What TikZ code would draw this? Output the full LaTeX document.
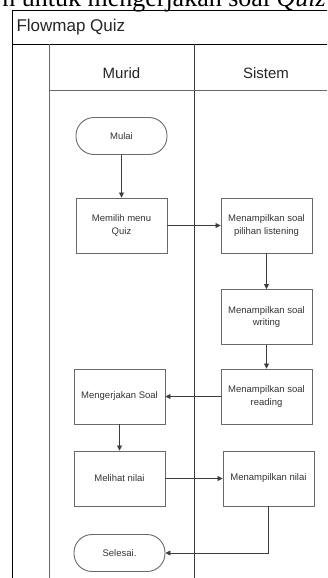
\documentclass[tikz,border=0pt]{standalone}
\usepackage{fontspec}
\setmainfont{Liberation Serif}
\setsansfont{Liberation Sans}
\usetikzlibrary{arrows.meta}
\definecolor{boxgray}{RGB}{105,105,105}
\definecolor{linegray}{RGB}{60,60,60}
\tikzset{
	proses/.style={draw=boxgray,line width=0.9pt,minimum width=91pt,minimum height=55pt,inner sep=1pt,
		align=center,font=\sffamily\fontsize{9.5}{12.5}\selectfont,text=black!80},
	terminal/.style={proses,minimum height=37pt,rounded corners=18pt},
	alur/.style={draw=linegray,line width=0.8pt,-{Triangle[length=5pt,width=5pt]}}
}
\begin{document}
\begin{tikzpicture}[x=1pt,y=-1pt]
			\clip (0,0) rectangle (327,578);
			% teks dokumen di atas gambar
			\node[anchor=base east,inner sep=0pt,font=\fontsize{26}{30}\selectfont] (teks) at (326,6.5) {n untuk mengerjakan soal \textit{Quiz}};
			% bingkai flowmap
			\draw[line width=0.9pt] (12.7,578) -- (12.7,10) -- (340,10);
			\draw[line width=0.9pt] (12.7,44) -- (340,44);
			\draw[boxgray,line width=0.9pt] (49,44) -- (49,578);
			\draw[linegray,line width=0.9pt] (194,44) -- (194,578);
			\draw[boxgray,line width=0.9pt] (49,90) -- (340,90);
			\node[anchor=west,font=\sffamily\fontsize{17}{20}\selectfont,text=black!85] (judul) at (13,27) {Flowmap Quiz};
			\node[font=\sffamily\fontsize{15}{18}\selectfont,text=black!85] (murid) at (121.5,73) {Murid};
			\node[font=\sffamily\fontsize{15}{18}\selectfont,text=black!85] (sistem) at (266,73) {Sistem};
			% simbol
			\node[terminal] (mulai) at (121.5,136) {Mulai};
			\node[proses] (memilih) at (121.5,225.5) {Memilih menu\\Quiz};
			\node[proses] (listening) at (266.5,225.5) {Menampilkan soal\\pilihan listening};
			\node[proses] (writing) at (266.5,317) {Menampilkan soal\\writing};
			\node[proses] (reading) at (266.5,396.5) {Menampilkan soal\\reading};
			\node[proses] (kerjakan) at (119.5,396.5) {Mengerjakan Soal};
			\node[proses] (lihat) at (119.5,478.5) {Melihat nilai};
			\node[proses] (nilai) at (268.5,478.5) {Menampilkan nilai};
			\node[terminal] (selesai) at (119.5,553) {Selesai.};
			% alur
			\draw[alur] (mulai) -- (memilih);
			\draw[alur] (memilih) -- (listening);
			\draw[alur] (listening) -- (writing);
			\draw[alur] (writing) -- (reading);
			\draw[alur] (reading) -- (kerjakan);
			\draw[alur] (kerjakan) -- (lihat);
			\draw[alur] (lihat) -- (nilai);
			\draw[alur] (nilai.south) |- (selesai.east);
		\end{tikzpicture}
\end{document}
